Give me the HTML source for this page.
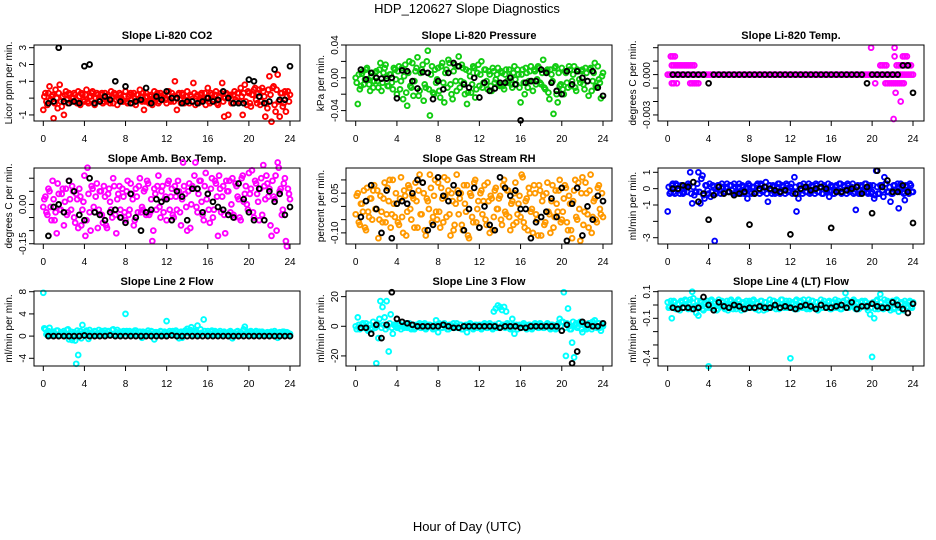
<!DOCTYPE html>
<html><head><meta charset="utf-8"><style>
html,body{margin:0;padding:0;background:#fff;}
svg{display:block;font-family:"Liberation Sans",Arial,sans-serif;}
</style></head><body>
<svg id="chart" width="936" height="540" viewBox="0 0 936 540" xmlns="http://www.w3.org/2000/svg">
<rect width="936" height="540" fill="#fff"/>
<text x="467" y="13" font-size="13" text-anchor="middle">HDP_120627  Slope Diagnostics</text>
<text x="467" y="531" font-size="13" text-anchor="middle">Hour of Day (UTC)</text>
</svg>
<script>
const xTicks = [0,4,8,12,16,20,24];
const xTickLabels = ["0","4","8","12","16","20","24"];

const co2Color = [-0.7,0.3,-0.4,0.7,0.1,-1.2,0.5,-0.6,0.8,-0.5, -1.0,0.4,-0.3,0.2,-0.2,0.3,-0.1,0.4,-0.4,0.2, -0.2,0.5,-0.3,0.1,0.4,-0.4,0.3,-0.1,0.2,-0.3, 0.3,-0.2,0.1,0.4,-0.3,0.2,-0.4,0.3,0.0,-0.2, 0.4,-0.3,0.2,-0.1,0.3,-0.4,0.2,0.5,-0.2,-0.7, 0.3,-0.2,0.1,-0.4,0.4,0.0,-0.3,0.3,-0.1,0.2, -0.3,0.4,-0.2,0.1,1.0,-0.7,0.3,-0.3,0.2,-0.1, 0.4,-0.3,0.1,0.9,-0.4,0.2,-0.2,0.3,0.0,-0.4, 0.6,-0.3,0.2,-0.1,0.4,-0.4,0.1,0.9,-1.1,0.3, -1.0,0.2,-0.3,0.4,-0.2,0.3,0.6,-1.0,0.8,-0.4, 0.3,-0.5,0.2,0.6,-0.3,0.5,-0.2,0.4,-1.1,-0.6, 1.3,-1.4,0.7,-0.8,1.4,-1.1,0.3,-0.3,-0.8,0.4, 0.2];
const co2Color2 = [0.1,-0.2,0.3,-0.1,0.2,-0.3,0.0,0.3,-0.2,0.1, 0.2,-0.1,0.3,-0.2,0.0,0.2,-0.3,0.1,0.3,-0.1, 0.2,-0.2,0.1,0.3,-0.3,0.0,0.2,-0.1,0.3,-0.2, -0.1,0.2,-0.3,0.1,0.3,-0.1,0.0,0.2,-0.2,0.1, -0.2,0.1,0.3,-0.3,0.0,0.2,-0.1,0.1,0.3,-0.2, 0.1,-0.3,0.2,0.0,-0.1,0.3,-0.2,0.1,0.2,-0.1, 0.2,-0.1,0.3,-0.2,0.0,0.2,-0.1,0.3,-0.3,0.1, -0.1,0.2,-0.2,0.3,0.1,-0.3,0.2,-0.1,0.3,0.0, -0.2,0.3,-0.1,0.2,-0.3,0.1,0.3,-0.2,0.0,0.2, 0.1,-0.3,0.2,-0.1,0.3,-0.2,0.1,0.3,-0.2,0.4, -0.3,0.2,0.5,-0.1,0.3,-0.4,0.6,0.1,-0.3,0.5, 0.2,0.6,-0.4,0.5,-0.2,0.3,-0.5,0.4,0.1,-0.2];
const co2Black = [-0.3,-0.2,3.0,-0.2,-0.3,-0.2,-0.3,1.9,2.0,-0.3, -0.2,0.1,-0.1,1.0,-0.2,0.7,-0.3,-0.2,-0.1,0.6, -0.3,0.1,-0.1,0.4,0.0,0.0,-0.3,-0.2,-0.2,-0.3, -0.2,0.0,-0.2,-0.1,0.4,0.0,-0.3,-0.3,-0.3,1.1, 1.0,0.1,-0.3,-0.2,1.7,-0.1,-0.1,1.9];

const pressColorMilli = [0,-32,-14,5,-8,10,-2,-16,6,-4, 8,-12,18,-6,12,2,-10,4,-14,10, -20,14,-4,-26,16,-34,20,-12,-22,8, 25,-16,10,-28,-12,33,-46,14,-20,-6, 12,-24,18,-30,10,22,-8,-26,16,-16, 26,-4,12,-20,-32,8,-18,14,-24,6, -10,20,-6,10,-14,4,-16,8,-2,12, -10,6,-14,10,-6,2,-12,14,-8,4, -30,10,-20,6,-4,14,-16,8,-2,12, -8,22,-14,10,-26,4,-44,14,-30,-10, 12,-20,6,-12,10,-4,14,-16,8,-6, 10,-14,6,-22,12,-4,18,-12,-2,-25, 6];
const pressColor2Milli = [-6,4,-10,8,-2,12,-8,2,-12,6, -4,10,-16,6,16,-10,4,-6,12,-2, 8,-14,12,2,-18,6,-10,18,-4,12, -22,6,16,-8,20,-14,4,-18,10,-2, -16,14,-6,6,-12,18,-20,8,-4,14, -12,16,-6,10,-18,2,-8,12,-14,16, 4,-12,10,-4,8,-10,12,-6,4,-8, 8,-10,4,-4,10,-8,6,-2,10,-12, 4,-6,12,-12,8,-4,10,-8,14,-6, 6,-12,8,-18,10,-4,12,-20,6,-8, -14,8,-6,14,-10,4,-12,10,-2,8, -8,12,-4,10,-16,6,-10,14,-6,2];
const pressBlackMilli = [10,-2,6,0,-1,-1,0,-25,9,8, -4,-13,7,6,-26,-4,-14,6,18,14, -8,-12,0,-24,-6,-16,-13,-6,-6,0, -8,-52,-6,-4,-4,10,6,-6,-16,-20, 8,-8,8,0,-4,8,-12,-22];

const tempColorMilli = [0,0,0,0,0,0,0,0,0,0, 0,0,0,0,0,0,0,0,0,0, 0,0,0,0,0,0,0,0,0,0, 0,0,0,0,0,0,0,0,0,0, 0,0,0,0,0,0,0,0,0,0, 0,0,0,0,0,0,0,0,0,0, 0,0,0,0,0,0,0,0,0,0, 0,0,0,0,0,0,0,0,0,0, 0,0,0,0,0,0,0,0,0,0, 0,0,0,0,0,0,0,0,0,0, 0,0,0,0,0,0,0,0,0,0, 0,0,0,0,0,0,0,0,0,0, 0];
const tempExtraX = [0.3,0.5,0.7,0.4,0.6,0.8,1.0,1.2,1.4,1.6,1.8,2.0,2.2,2.4,2.6,0.4,0.6,0.9,2.2,2.4,2.6,2.8,3.0,19.9,20.3,20.8,21.0,21.2,21.4,21.3,21.5,21.7,21.9,22.1,22.3,22.5,22.7,22.9,23.1,22.2,22.2,22.3,22.1,22.8,22.4,22.6,22.8,23.0,23.2,23.4,23.6,23.8,23.0,23.2,23.4];
const tempExtraMilli = [1.35,1.35,1.35,0.68,0.68,0.68,0.68,0.68,0.68,0.68,0.68,0.68,0.68,0.68,0.68,-0.65,-0.65,-0.65,-0.65,-0.65,-0.65,-0.65,-0.65,2.0,-0.65,0.68,0.68,0.68,0.68,-0.65,-0.65,-0.65,-0.65,-0.65,-0.65,-0.65,-0.65,-0.65,-0.65,2.0,1.35,-1.35,-3.3,-2.0,0.68,0.68,0.68,0.68,0.68,0.68,0.68,0.68,1.35,1.35,1.35];
const tempBlackMilli = [0,0,0,0,0,0,0,-0.65,0,0, 0,0,0,0,0,0,0,0,0,0, 0,0,0,0,0,0,0,0,0,0, 0,0,0,0,0,0,0,0,-0.65,0, 0,0,0,0,0,0.68,0.68,-1.35];

const ambColorCenti = [-1,3,-4,5,-6,2,-3,8,-2,4, -8,6,-3,2,7,-5,4,-9,3,-2, 11,-6,4,-10,6,-3,8,-2,5,-7, 3,-9,6,-2,10,-4,2,7,-5,3, -6,9,-2,4,-8,6,-3,10,-1,5, -4,8,-3,-14,6,-2,11,-5,7,2, -6,9,3,-4,7,-2,5,-8,16,4, -10,8,0,6,16,-3,9,1,-6,12, 4,-7,10,-2,8,-12,6,3,-4,9, 5,-3,10,-5,7,2,-6,11,4,0, 12,6,-3,9,4,-6,10,15,2,8, 6,-12,3,11,16,5,-4,8,-14,6, 2];
const ambColor2Centi = [2,-3,6,-1,9,-6,-11,4,-2,6, 1,-4,9,-2,5,-7,2,6,-8,1, -12,14,-3,7,-1,3,-9,5,-4,7, -8,4,1,-5,7,-11,4,-2,6,-3, 5,-4,8,2,-6,3,7,-3,-2,6, 9,-4,2,-10,4,7,-1,5,-3,3, 8,-2,6,-5,3,9,-3,2,7,-1, 5,-9,7,11,-1,4,9,-4,7,2, -2,6,-5,9,3,11,-3,7,-11,5, 9,0,-4,8,3,-5,10,1,7,-2, 4,13,-5,8,1,6,-4,7,11,3, -8,9,2,-10,14,6,-2,10,-16,4];
const ambBlackCenti = [-12,-1,0,-3,9,5,-4,-6,10,-3, -4,-6,-3,-2,-5,-7,4,-5,-10,-3, -2,2,1,2,-6,5,3,-6,6,6, -3,4,1,-1,-2,-4,-5,8,2,-3, -6,6,-6,5,1,4,-4,-1];

const rhColorCenti = [-3,5,-7,1,6,-9,-2,3,-5,8, -1,-12,4,-6,9,-3,2,-8,10,-4, 1,-7,11,-10,4,-2,7,-5,3,9, -8,12,-3,5,-11,2,12,-6,4,-2, 9,-8,3,11,-4,6,-11,2,-7,12, -3,5,-9,1,8,-12,4,-6,10,-1, -8,6,2,-5,9,-10,3,-4,7,-1, 4,-7,10,-3,6,-9,2,5,-6,1, -4,11,-8,3,7,-2,-10,5,-5,8, -11,4,-6,9,-3,2,-8,6,-2,10, -5,3,7,-9,1,-12,6,-4,9,-13, 11,-2,5,-8,12,-4,3,-6,8,-3, -4];
const rhColor2Centi = [4,-6,1,-2,-8,7,-4,3,6,-1, 6,-5,-2,3,-6,7,10,-3,1,5, -6,3,-4,6,-11,8,-1,4,-8,2, 6,-3,9,-9,3,-1,7,-4,10,-5, -2,7,-6,4,10,-3,5,-9,1,6, 3,-7,8,-2,-11,5,-4,9,-6,2, 5,-3,8,-7,2,4,-9,6,-1,3, -5,8,-2,6,-4,1,-7,9,-3,4, 12,-6,2,-9,5,-1,8,-3,-11,6, 2,-7,5,-2,-10,8,-4,1,6,-6, -2,8,-6,4,-9,2,10,-5,-1,5, -7,9,-3,6,-10,2,-5,7,-1,5];
const rhBlackCenti = [-4,2,8,-1,-10,6,-12,1,2,1, 5,10,9,-9,-7,11,4,2,8,5, -9,-1,7,-8,0,-7,-9,11,7,4, 6,-1,-1,-12,-6,-4,-2,3,-4,7, -13,1,7,-11,0,-5,4,2];

const sampleColorDeci = [-14,-3,2,-2,3,-1,-3,2,-2,1, 3,10,-9,-4,-2,10,-9,8,-6,2, -3,-5,2,-32,-2,2,-3,1,-2,3, -2,2,-3,1,-2,3,-3,1,-2,-6, 2,-3,1,-2,3,-3,2,-1,4,-8, 2,-3,1,-2,3,-3,2,-1,3,-2, 1,-3,7,-14,-6,2,-3,1,-2,3, -2,1,-3,2,-2,3,-3,1,-2,-5, 2,-3,1,-2,3,-3,2,-1,3,-2, 1,-3,-13,2,-3,1,-2,3,-3,2, -2,-6,11,-3,2,-1,7,3,-2,-8, -3,2,-1,-12,3,-2,-7,1,-3,2, -2];
const sampleColor2Deci = [1,-2,3,-3,2,-1,2,-3,1,-2, 2,-3,1,-2,3,-2,6,-4,2,-1, 3,-2,1,-3,2,-1,3,-2,1,-2, 2,-1,3,-3,1,-2,2,-3,1,3, -2,1,-3,2,-1,3,-2,1,-3,2, -1,2,-3,1,3,-2,1,-3,2,-1, 3,-2,1,-3,2,-1,3,-2,1,-3, 2,-1,3,-2,1,-3,2,-1,3,-2, 1,-3,2,-1,3,-2,1,-3,2,-1, 3,-2,1,-3,2,-1,3,-2,1,-3, 2,-4,1,-3,2,-5,3,-2,1,-3, 2,-1,3,-2,1,-3,2,-1,3,-2];
const sampleBlackDeci = [0,0,2,1,4,-8,-3,-19,-4,1, -3,-2,-4,-3,-2,-22,-3,0,1,0, -1,-2,-1,-28,-3,0,1,-1,0,1, 0,-24,-2,-2,-1,0,1,-3,1,-15, 11,1,5,-2,-2,2,-2,-21];

const line2Color = [7.8,1.2,0.4,1.5,0.2,0.8,0.3,1.0,0.1,0.6, 0.9,0.2,1.2,0.4,-0.7,0.7,-5.0,-3.4,0.9,2.0, 0.3,1.0,-0.5,0.6,0.2,0.9,0.4,1.1,0.3,0.7, 1.0,0.2,0.8,0.4,1.2,0.3,1.1,0.6,0.2,0.9, 4.0,0.5,0.9,0.2,0.7,1.0,0.3,0.8,-0.3,0.6, 0.2,1.0,0.4,0.8,-0.6,0.7,0.3,0.9,0.1,0.8, 2.7,0.4,0.6,0.9,0.2,0.7,-0.4,0.8,0.3,1.0, 1.3,0.5,1.6,0.3,0.8,1.9,0.2,0.6,3.0,0.4, 0.9,0.3,1.0,0.5,0.7,0.2,0.9,0.4,0.8,0.3, 0.6,0.9,-0.4,0.5,0.8,0.2,0.7,0.4,1.7,0.6, 0.3,0.9,0.5,0.7,0.2,0.8,0.4,0.6,0.3,0.7, 0.5,0.8,0.2,0.6,-0.3,0.7,0.4,0.8,0.3,0.6, 0.4];
const line2Color2 = [1.4,0.3,0.9,0.1,0.6,0.4,1.0,0.2,0.7,0.3, 0.5,1.1,-0.6,0.8,0.3,-0.8,1.0,0.4,-0.4,0.6, 0.8,0.2,1.1,0.5,0.3,0.8,0.1,0.6,0.9,0.2, 0.5,0.9,0.3,1.1,0.2,0.7,0.4,0.8,0.3,0.6, 0.9,0.2,0.6,0.4,1.0,0.3,0.7,0.2,0.8,0.5, 0.6,0.3,0.9,0.2,0.7,0.5,0.3,0.8,0.4,0.6, 0.3,0.9,0.5,0.2,1.0,0.4,0.6,-0.3,0.7,0.5, 0.8,1.1,0.4,0.9,0.6,0.3,1.2,0.5,0.9,0.2, 0.5,0.8,0.3,0.9,0.4,0.6,0.2,0.7,0.5,0.3, 0.8,0.4,0.6,0.2,0.9,0.5,0.3,1.2,0.5,0.8, 0.4,0.7,0.2,0.9,0.5,0.3,0.8,0.4,0.6,0.2, 0.7,0.4,0.9,0.3,0.6,0.2,0.8,0.5,0.7,0.3];
const line2Black = [0,0,0,0,0,0,0,0.1,0,0, 0,0,0.1,0,0,0,0,0,0,0, 0,0,0,0,0.1,0,0,0,0,0, 0,0,0,0,0,0,0,0,0,0, 0,0,0,0,0,0,0,0];

const line3Color = [0,6,-2,1,-1,2,-3,1,-2,0, -25,-8,17,13,6,17,-17,8,-5,1, -1,2,-2,1,0,-1,2,-2,1,-1, 0,2,-1,1,-2,0,1,-1,0,4, -4,1,-1,2,0,-2,1,0,-1,2, -1,1,-2,0,-4,1,0,-2,1,-1, 1,-2,0,1,-1,2,-1,10,12,14, 13,11,13,10,1,-2,5,-5,1,0, -1,1,0,-2,1,0,-1,2,0,-1, 1,-1,0,2,-1,1,0,-2,1,5, 3,23,-20,12,-2,-11,-21,2,0,3, -4,1,-2,2,0,3,4,-1,2,-3, 0];
const line3Color2 = [-2,1,-1,2,0,-2,1,-1,3,-1, 2,5,-1,1,-2,0,2,-1,1,0, -1,1,0,-1,2,0,-1,1,-2,1, 1,-1,0,2,-1,1,0,-2,1,-1, 2,-1,1,0,-2,1,-1,2,0,-1, 1,-2,0,1,-1,2,0,-1,1,0, -1,1,2,-1,1,0,-2,1,-1,2, 0,1,-1,2,0,-1,1,0,-2,1, -1,2,0,-1,1,-2,0,1,-1,2, 0,-1,1,0,-2,1,0,-1,2,0, 3,-1,2,0,-2,3,1,-1,2,-2, 1,0,-1,2,-2,1,0,2,-1,1];
const line3Black = [-1,-1,-5,1,-8,1,23,5,3,2, 1,0,0,0,0,0,1,0,-1,-1, 0,0,0,0,0,0,0,-1,0,0, 0,-1,-1,0,0,0,0,0,0,-3, 1,-25,-17,3,1,0,0,2];

const line4ColorCenti = [2,-1,-10,3,-3,1,-4,2,-2,3, -3,4,10,-1,-6,-8,3,-3,2,-2, -46,3,-2,1,-4,4,-1,2,-3,3, -2,4,-3,1,-1,3,-4,2,-3,1, 3,-2,4,-3,1,-1,3,-4,2,-2, 4,-1,3,-3,1,-2,4,-2,3,-1, -40,2,-3,4,-1,3,-2,1,-3,4, -2,3,-1,2,-3,4,-2,1,-1,3, -3,2,4,-2,1,-3,3,9,-2,2, -1,4,-3,2,-2,3,-1,2,-4,-7, -39,-10,3,-3,8,-1,4,-2,2,-4, 3,-2,4,-5,1,-3,3,-2,2,-1, 2];
const line4Color2Centi = [-2,3,-1,2,-3,1,3,-2,4,-1, 2,-3,5,-2,3,-1,2,-4,1,3, -2,4,-1,2,-3,1,3,-2,1,-4, 3,-1,2,-3,4,-2,1,-1,3,-2, -1,3,-2,2,-4,3,-1,2,-3,1, -2,3,-1,2,-3,4,-1,1,-2,3, 1,-2,3,-3,2,-1,4,-2,1,-3, 3,-1,2,-4,1,-2,3,-1,2,-3, 2,-2,1,3,-3,2,-1,4,-2,1, 3,-2,1,-3,2,-1,3,-2,1,-2, 2,-3,4,-1,2,-3,1,3,-2,2, -3,1,3,-2,2,-4,1,-1,3,-2];
const line4BlackCenti = [-2,-3,-2,-2,-3,-2,6,0,-4,2, -1,-2,0,-1,-3,-2,-2,-1,-2,-2, 0,-2,-1,-2,-3,-1,0,-1,-3,0, -2,-2,-1,0,-2,2,-3,-1,-1,1, -1,-2,-2,2,0,-3,-6,1];

const co2Ticks=[-1,0,1,2,3], co2TickLabels=["-1","","1","2","3"];
const pressTicks=[-0.04,-0.02,0,0.02,0.04], pressTickLabels=["-0.04","","0.00","","0.04"];
const tempTicks=[-0.003,-0.002,-0.001,0,0.001,0.002], tempTickLabels=["-0.003","","","0.000","",""];
const ambTicks=[-0.15,-0.10,-0.05,0,0.05,0.10], ambTickLabels=["-0.15","","","0.00","",""];
const rhTicks=[-0.10,-0.05,0,0.05,0.10], rhTickLabels=["-0.10","","","0.05",""];
const sampleTicks=[-3,-2,-1,0,1], sampleTickLabels=["-3","","-1","0","1"];
const line2Ticks=[-4,0,4,8], line2TickLabels=["-4","0","4","8"];
const line3Ticks=[-20,0,20], line3TickLabels=["-20","0","20"];
const line4Ticks=[-0.4,-0.3,-0.2,-0.1,0,0.1], line4TickLabels=["-0.4","","","-0.1","","0.1"];

const NS="http://www.w3.org/2000/svg";
const svg=document.getElementById('chart');
function mk(tag,attrs,parent){const e=document.createElementNS(NS,tag);for(const k in attrs)e.setAttribute(k,attrs[k]);(parent||svg).appendChild(e);return e;}

const cols=[{l:34,r:300,x0:43.3,x24:290},{l:346,r:612,x0:355.7,x24:603},{l:658,r:924,x0:667.7,x24:913}];
const rows=[{t:45,b:121},{t:168,b:244},{t:291,b:366}];

function seq(n,start,step){const a=[];for(let i=0;i<n;i++)a.push(+(start+i*step).toFixed(2));return a;}

function panel(cfg){
  const C=cols[cfg.col],R=rows[cfg.row];
  const g=mk('g',{});
  
  
  const xs=v=>C.x0+(v/24)*(C.x24-C.x0);
  const ys=v=>R.t+(cfg.ymax-v)/(cfg.ymax-cfg.ymin)*(R.b-R.t);
  const cx=(C.l+C.r)/2;
  const title=mk('text',{x:cx,y:R.t-6,'font-size':11,'font-weight':'bold','text-anchor':'middle'},g);
  title.textContent=cfg.title;
  
  
  const pts=mk('g',{fill:'none','stroke-width':1.9},g);
  
  
  function dots(xarr,yarr,color,scale,nm){
    for(let i=0;i<yarr.length;i++){
      const c=mk('circle',{cx:xs(xarr[i]).toFixed(1),cy:ys(yarr[i]*scale).toFixed(1),r:2.4,stroke:color},pts);
      
      
    }
  }
  dots(seq(cfg.color.length,0,0.2),cfg.color,cfg.c,cfg.scale,cfg.name+'-point');
  if(cfg.color2)dots(seq(cfg.color2.length,0.1,0.2),cfg.color2,cfg.c,cfg.scale,cfg.name+'-point');
  if(cfg.extraX)dots(cfg.extraX,cfg.extraY,cfg.c,cfg.scale,cfg.name+'-point');
  dots(seq(cfg.black.length,0.5,0.5),cfg.black,'#000',cfg.scale,cfg.name+'-ref-point');
  const box=mk('rect',{x:C.l,y:R.t,width:C.r-C.l,height:R.b-R.t,fill:'none',stroke:'#000','stroke-width':1},g);
  
  
  const xa=mk('g',{},g);
  
  
  xTicks.forEach((t,i)=>{
    const x=xs(t);
    mk('line',{x1:x,x2:x,y1:R.b,y2:R.b+5,stroke:'#000'},xa);
    const tl=mk('text',{x:x,y:R.b+21,'font-size':10,'text-anchor':'middle'},xa);
    tl.textContent=xTickLabels[i];
    
    
  });
  const ya=mk('g',{},g);
  
  
  cfg.ticks.forEach((t,i)=>{
    const y=ys(t);
    mk('line',{x1:C.l-5,x2:C.l,y1:y,y2:y,stroke:'#000'},ya);
    if(cfg.tickLabels[i]){
      const tl=mk('text',{x:C.l-8,y:y,'font-size':10,'text-anchor':'middle',transform:`rotate(-90 ${C.l-8} ${y})`},ya);
      tl.textContent=cfg.tickLabels[i];
      
      
    }
  });
  const yc=(R.t+R.b)/2;
  const yt=mk('text',{x:C.l-22,y:yc,'font-size':10,'text-anchor':'middle',transform:`rotate(-90 ${C.l-22} ${yc})`},g);
  yt.textContent=cfg.ylab;
  
  
}

panel({name:'co2',col:0,row:0,title:'Slope Li-820 CO2',ylab:'Licor ppm per min.',ymin:-1.36,ymax:3.16,scale:1,c:'#ff0000',color:co2Color,color2:co2Color2,black:co2Black,ticks:co2Ticks,tickLabels:co2TickLabels});
panel({name:'pressure',col:1,row:0,title:'Slope Li-820 Pressure',ylab:'kPa per min.',ymin:-0.0527,ymax:0.04,scale:0.001,c:'#11cc11',color:pressColorMilli,color2:pressColor2Milli,black:pressBlackMilli,ticks:pressTicks,tickLabels:pressTickLabels});
panel({name:'licor-temp',col:2,row:0,title:'Slope Li-820 Temp.',ylab:'degrees C per min.',ymin:-0.00345,ymax:0.0022,scale:0.001,c:'#ff00ff',color:tempColorMilli,extraX:tempExtraX,extraY:tempExtraMilli,black:tempBlackMilli,ticks:tempTicks,tickLabels:tempTickLabels});
panel({name:'amb-temp',col:0,row:1,title:'Slope Amb. Box Temp.',ylab:'degrees C per min.',ymin:-0.151,ymax:0.139,scale:0.01,c:'#ff00ff',color:ambColorCenti,color2:ambColor2Centi,black:ambBlackCenti,ticks:ambTicks,tickLabels:ambTickLabels});
panel({name:'rh',col:1,row:1,title:'Slope Gas Stream RH',ylab:'percent per min.',ymin:-0.142,ymax:0.145,scale:0.01,c:'#ff9900',color:rhColorCenti,color2:rhColor2Centi,black:rhBlackCenti,ticks:rhTicks,tickLabels:rhTickLabels});
panel({name:'sample-flow',col:2,row:1,title:'Slope Sample Flow',ylab:'ml/min per min.',ymin:-3.385,ymax:1.263,scale:0.1,c:'#0000ff',color:sampleColorDeci,color2:sampleColor2Deci,black:sampleBlackDeci,ticks:sampleTicks,tickLabels:sampleTickLabels});
panel({name:'line2-flow',col:0,row:2,title:'Slope Line 2 Flow',ylab:'ml/min per min.',ymin:-5.39,ymax:8.13,scale:1,c:'#00ffff',color:line2Color,color2:line2Color2,black:line2Black,ticks:line2Ticks,tickLabels:line2TickLabels});
panel({name:'line3-flow',col:1,row:2,title:'Slope Line 3 Flow',ylab:'ml/min per min.',ymin:-26.8,ymax:23.8,scale:1,c:'#00ffff',color:line3Color,color2:line3Color2,black:line3Black,ticks:line3Ticks,tickLabels:line3TickLabels});
panel({name:'line4-flow',col:2,row:2,title:'Slope Line 4 (LT) Flow',ylab:'ml/min per min.',ymin:-0.458,ymax:0.105,scale:0.01,c:'#00ffff',color:line4ColorCenti,color2:line4Color2Centi,black:line4BlackCenti,ticks:line4Ticks,tickLabels:line4TickLabels});
</script>
</body></html>
